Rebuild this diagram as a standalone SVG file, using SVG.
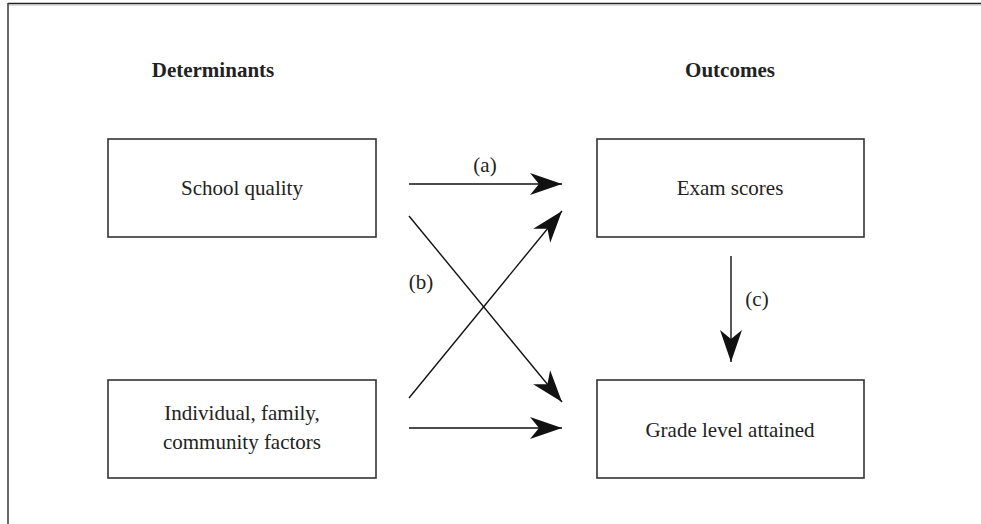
<svg xmlns="http://www.w3.org/2000/svg" width="981" height="524" viewBox="0 0 981 524">
<style>
.box{fill:#fff;stroke:#333;stroke-width:1.6}
.t{font-family:'Times New Roman','Liberation Serif','DejaVu Serif',serif;font-size:21px;fill:#222;text-anchor:middle}
.h{font-weight:bold}
.c{stroke:#111;stroke-width:1.4;fill:none}
</style>
<defs>
<marker id="ah" markerUnits="userSpaceOnUse" markerWidth="40" markerHeight="30" viewBox="-32 -15 34 30" refX="0" refY="0" orient="auto">
<path d="M0,0 L-32,-11 L-23,0 L-32,11 Z" fill="#111"/>
</marker>
</defs>
<rect width="981" height="524" fill="#fff"/>
<g id="frame">
<line x1="8" y1="3.5" x2="981" y2="3.5" stroke="#222" stroke-width="1.6"/>
<line x1="8" y1="5" x2="981" y2="5" stroke="#bbb" stroke-width="1"/>
<line x1="8" y1="3" x2="8" y2="524" stroke="#444" stroke-width="1.6"/>
</g>
<g id="headers">
<text class="t h" x="213" y="77">Determinants</text>
<text class="t h" x="730" y="77">Outcomes</text>
</g>
<g id="school">
<rect class="box" x="108" y="139" width="268" height="98"/>
<text class="t" x="242" y="195">School quality</text>
</g>
<g id="exam">
<rect class="box" x="597" y="139" width="267" height="98"/>
<text class="t" x="730" y="195">Exam scores</text>
</g>
<g id="individual">
<rect class="box" x="108" y="380" width="268" height="98"/>
<text class="t" x="242" y="420">Individual, family,</text>
<text class="t" x="242" y="449">community factors</text>
</g>
<g id="grade">
<rect class="box" x="597" y="380" width="267" height="98"/>
<text class="t" x="730" y="437">Grade level attained</text>
</g>
<g id="connectors">
<line class="c" x1="409" y1="184" x2="562" y2="184" marker-end="url(#ah)"/>
<line class="c" x1="409" y1="216" x2="562" y2="402" marker-end="url(#ah)"/>
<line class="c" x1="409" y1="398" x2="562" y2="211" marker-end="url(#ah)"/>
<line class="c" x1="409" y1="428" x2="562" y2="428" marker-end="url(#ah)"/>
<line class="c" x1="731" y1="256" x2="731" y2="362" marker-end="url(#ah)"/>
<text class="t" x="485" y="172">(a)</text>
<text class="t" x="421" y="289">(b)</text>
<text class="t" x="757" y="306">(c)</text>
</g>
</svg>
